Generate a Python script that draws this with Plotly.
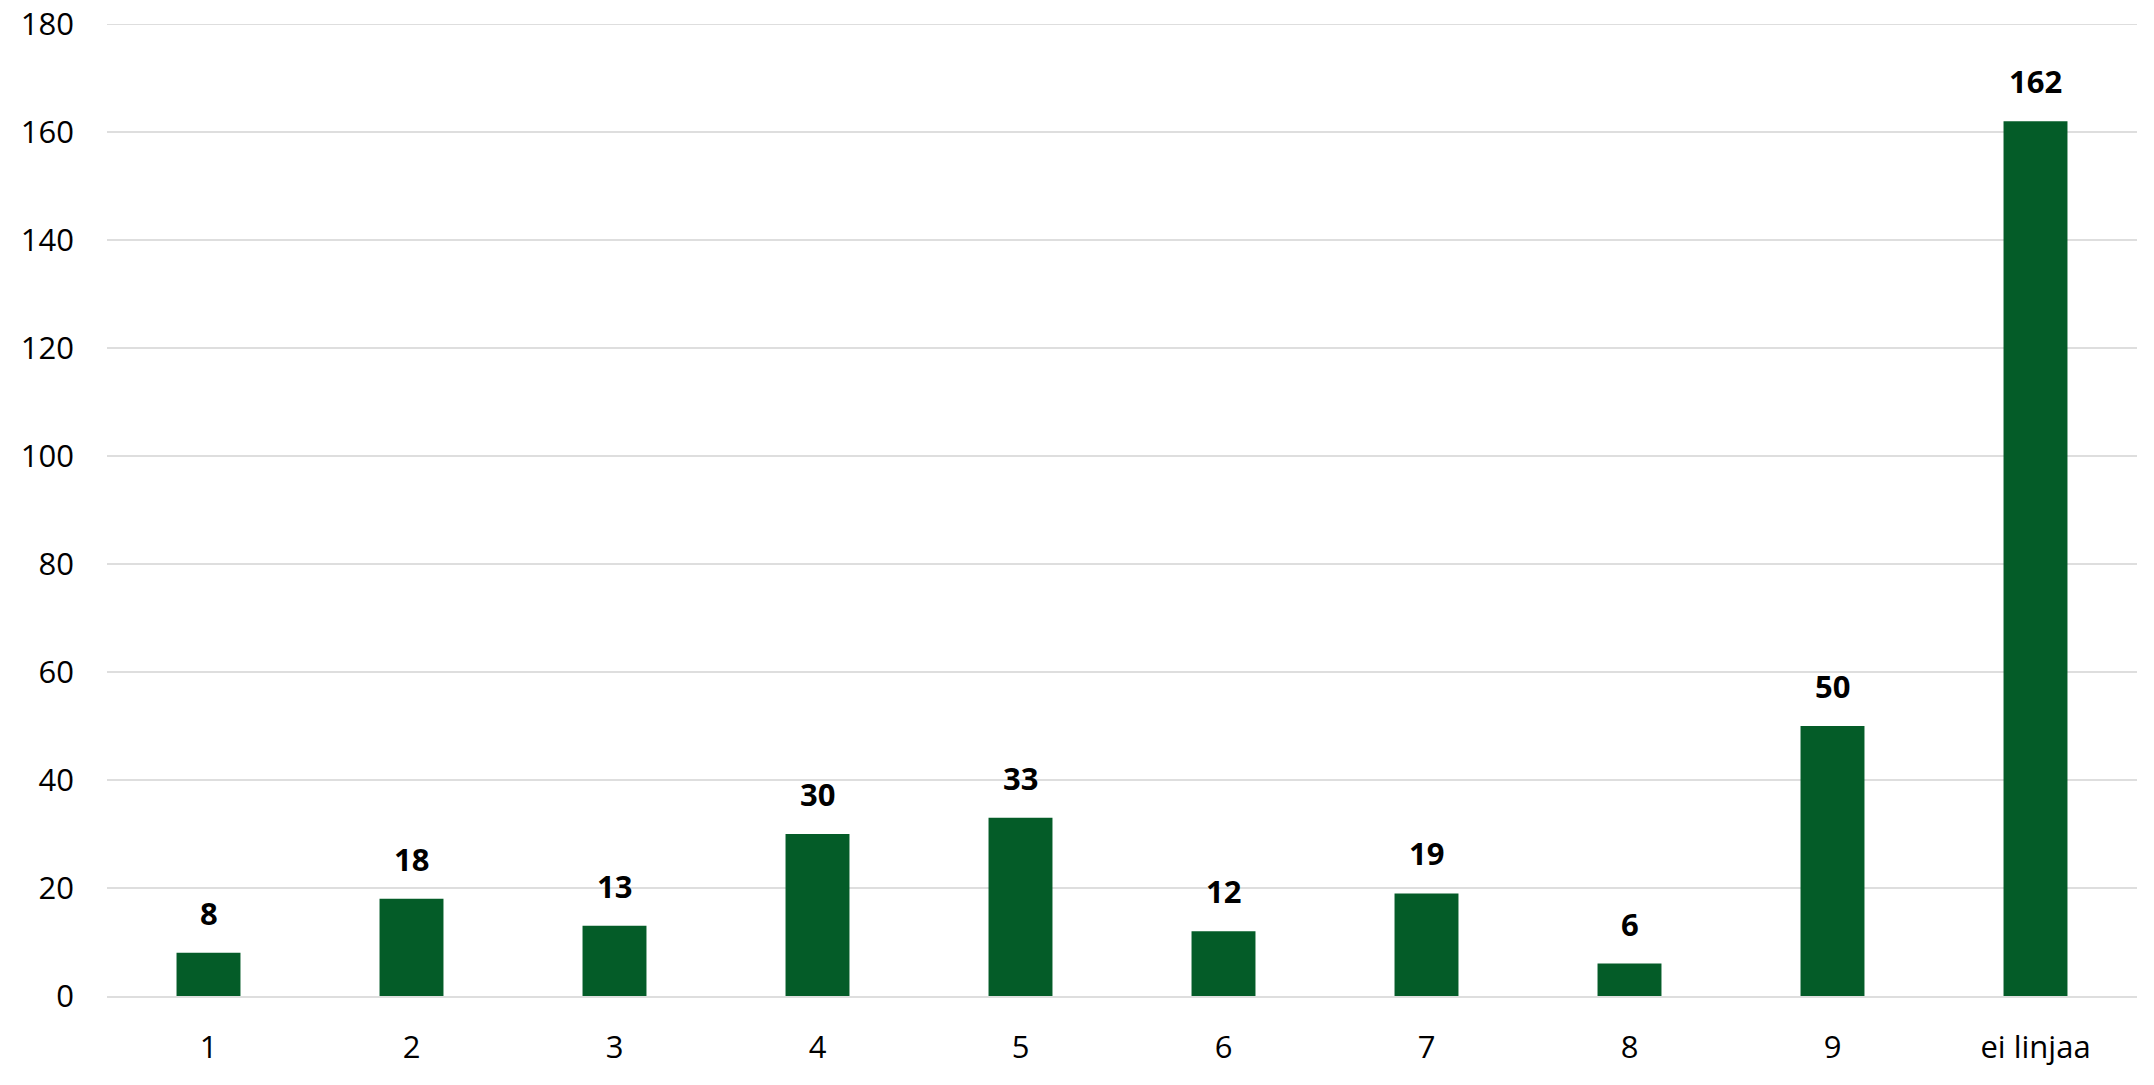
import plotly.graph_objects as go

categories = ["1", "2", "3", "4", "5", "6", "7", "8", "9", "ei linjaa"]
values = [8, 18, 13, 30, 33, 12, 19, 6, 50, 162]
y_ticks = [0, 20, 40, 60, 80, 100, 120, 140, 160, 180]

BAR_COLOR = "#045C28"
GRID = "#DEDEDE"
FONT = "Open Sans"

fig = go.Figure()
fig.add_trace(go.Bar(x=categories, y=values, marker=dict(color=BAR_COLOR, line=dict(width=0)),
                     hoverinfo="skip"))

for i, v in enumerate(values):
    fig.add_annotation(x=i, y=v, xref="x", yref="y", text=f"<b>{v}</b>", showarrow=False,
                       yshift=40, yanchor="middle",
                       font=dict(family=FONT, size=31, color="#000000"))

# top gridline at the last tick (plotly omits grid at the plot edge)
fig.add_shape(type="line", xref="paper", yref="y", x0=0, x1=1, y0=y_ticks[-1], y1=y_ticks[-1],
              line=dict(color=GRID, width=2), layer="below")

fig.update_layout(
    width=2154, height=1085,
    margin=dict(l=107, r=17, t=24, b=89),
    paper_bgcolor="white", plot_bgcolor="white",
    bargap=0.685,
    showlegend=False,
    font=dict(family=FONT, size=31, color="#000000"),
)
fig.update_yaxes(range=[0, 180], tickvals=y_ticks, showgrid=True, gridcolor=GRID,
                 gridwidth=2, zeroline=False, showline=False, ticks="", automargin=False,
                 ticklabelstandoff=32, tickfont=dict(family=FONT, size=31, color="#000000"))
fig.update_xaxes(type="category", range=[-0.5, 9.5], showline=True, linecolor=GRID,
                 linewidth=2, ticks="", automargin=False,
                 ticklabelstandoff=23, tickfont=dict(family=FONT, size=31, color="#000000"))

fig.write_html("out.html", config={"displayModeBar": False},
               post_script="document.body.style.margin='0';document.body.style.overflow='hidden';")
